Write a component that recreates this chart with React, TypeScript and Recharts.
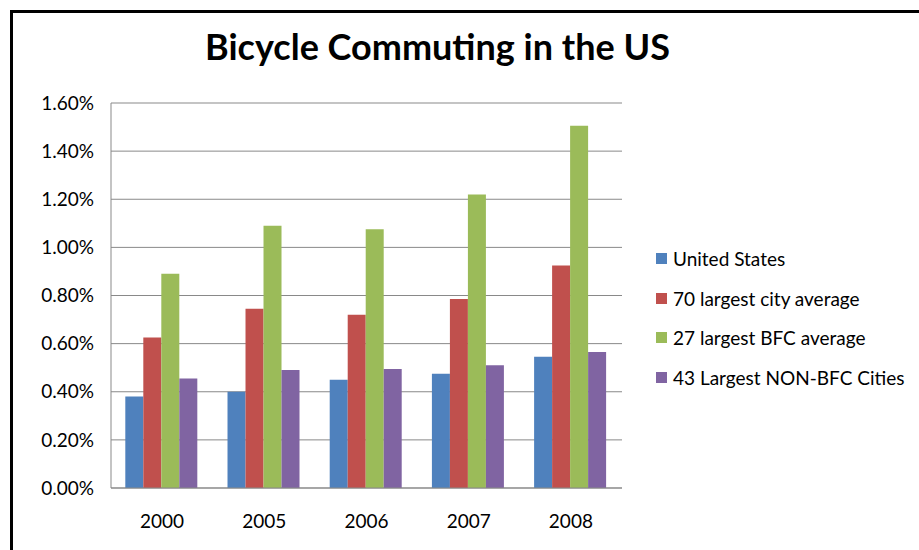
import React from 'react';
import { BarChart, Bar, XAxis, YAxis, CartesianGrid } from 'recharts';

const years = ['2000', '2005', '2006', '2007', '2008'];
const unitedStates = [0.38, 0.4, 0.45, 0.475, 0.545];
const largest70 = [0.625, 0.745, 0.72, 0.785, 0.925];
const largestBfc27 = [0.89, 1.09, 1.075, 1.22, 1.505];
const largestNonBfc43 = [0.455, 0.49, 0.495, 0.51, 0.565];
const yTicks = [0, 0.2, 0.4, 0.6, 0.8, 1.0, 1.2, 1.4, 1.6];

const series = [
    { key: 'us', name: 'United States', color: '#4F81BD', values: unitedStates },
    { key: 'c70', name: '70 largest city average', color: '#C0504D', values: largest70 },
    { key: 'bfc27', name: '27 largest BFC average', color: '#9BBB59', values: largestBfc27 },
    { key: 'nonbfc43', name: '43 Largest NON-BFC Cities', color: '#8064A2', values: largestNonBfc43 },
];

const data = years.map((year, i) => {
    const row: Record<string, string | number> = { year };
    series.forEach(s => { row[s.key] = s.values[i]; });
    return row;
});

const FONT = 'Lato, "Open Sans", sans-serif';

function LegendBox() {
    return (
        <div style={{ position: 'absolute', left: 656, top: 239, width: 263, fontFamily: FONT }}>
            {series.map(s => (
                <div key={s.key} style={{ display: 'flex', alignItems: 'center', height: 39.6, fontSize: 19, color: '#000', whiteSpace: 'nowrap' }}>
                    <span style={{ width: 11, height: 11, background: s.color, marginRight: 6, display: 'inline-block', flexShrink: 0 }} />
                    {s.name}
                </div>
            ))}
        </div>
    );
}

export default function App() {
    return (
        <div style={{ position: 'absolute', left: 0, top: 0, width: 919, height: 550, background: '#fff', overflow: 'hidden' }}>
            <div style={{ position: 'absolute', left: 10, top: 10, width: 909, height: 540, borderLeft: '3px solid #000', borderTop: '3px solid #000' }} />
            <div style={{ position: 'absolute', left: 0, top: 24, width: 875, textAlign: 'center', fontFamily: FONT, fontWeight: 700, fontSize: 36, color: '#000' }}>
                Bicycle Commuting in the US
            </div>
            <BarChart
                width={919}
                height={550}
                data={data}
                margin={{ top: 103, right: 297, bottom: 32, left: 11 }}
                barCategoryGap="14%"
                barGap={0}
                style={{ position: 'absolute', left: 0, top: 0 }}
            >
                <CartesianGrid vertical={false} stroke="#898989" />
                <XAxis
                    dataKey="year"
                    height={30}
                    tickLine={false}
                    axisLine={{ stroke: '#898989' }}
                    tick={{ fill: '#000', fontSize: 19, fontFamily: FONT }}
                    tickMargin={21}
                />
                <YAxis
                    width={100}
                    domain={[0, 1.6]}
                    ticks={yTicks}
                    tickLine={false}
                    axisLine={{ stroke: '#898989' }}
                    tickFormatter={(v: number) => `${v.toFixed(2)}%`}
                    tick={{ fill: '#000', fontSize: 19, fontFamily: FONT }}
                    tickMargin={11}
                />
                {series.map(s => (
                    <Bar key={s.key} dataKey={s.key} name={s.name} fill={s.color} isAnimationActive={false} />
                ))}
            </BarChart>
            <LegendBox />
        </div>
    );
}
